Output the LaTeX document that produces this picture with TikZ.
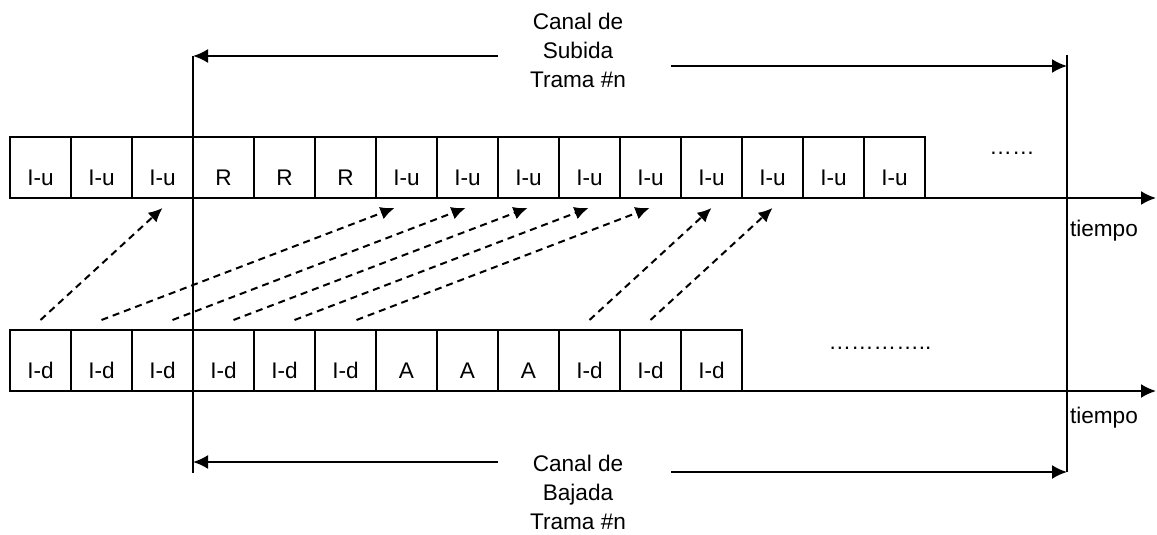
\documentclass[tikz,border=0pt]{standalone}
\usepackage{fontspec}
\setmainfont{Liberation Sans}
\usetikzlibrary{arrows.meta}
\usetikzlibrary{calc}

\begin{document}
\begin{tikzpicture}[x=0.5pt,y=-0.5pt,line width=1pt,font=\fontsize{11.3}{14.5}\selectfont,
  cell/.style={draw,anchor=north west,outer sep=0pt,inner sep=0pt,minimum width=30.5pt,minimum height=30.5pt,text height=18pt,text depth=0pt},
  msg/.style={dash pattern=on 3.5pt off 2.5pt,-{Latex[length=7pt,width=6.5pt]}},
  tip/.style={-{Latex[length=7.5pt,width=7pt]}}]
\useasboundingbox (0,0) rectangle (1157,535);
\foreach \t [count=\i] in {I-u,I-u,I-u,R,R,R,I-u,I-u,I-u,I-u,I-u,I-u,I-u,I-u,I-u}
  \node[cell] (u\i) at ({10+61*(\i-1)},137) {\t};
\foreach \t [count=\i] in {I-d,I-d,I-d,I-d,I-d,I-d,A,A,A,I-d,I-d,I-d}
  \node[cell] (d\i) at ({10+61*(\i-1)},330) {\t};
\coordinate (tu) at (1156,198);
\coordinate (td) at (1156,391);
\draw[tip] (u15.south east) -- (tu);
\draw[tip] (d12.south east) -- (td);
\node[anchor=base west,inner sep=0pt] (tlu) at (1069,236) {tiempo};
\node[anchor=base west,inner sep=0pt] (tld) at (1069,423) {tiempo};
\node[anchor=base] (dotu) at (1012,155) {……};
\node[anchor=base] (dotd) at (880,349) {…………..};
% frame #n
\coordinate (lt) at (193,56);
\coordinate (lb) at (193,473);
\coordinate (rt) at (1067,55);
\coordinate (rb) at (1067,472);
\draw (lt) -- (lb);
\draw (rt) -- (rb);
\node[align=center] (sub) at (578,50) {Canal de\\Subida\\Trama \#n};
\node[align=center] (baj) at (578,492) {Canal de\\Bajada\\Trama \#n};
\coordinate (sl) at (498,56);
\coordinate (sr) at (671,66);
\coordinate (bl) at (498,462);
\coordinate (br) at (671,472);
\draw[tip] (sl) -- (lt);
\draw[tip] (sr) -- (rt|-sr);
\draw[tip] (bl) -- (lb|-bl);
\draw[tip] (br) -- (rb);
% down -> up
\foreach \a/\da/\b/\db in {1/0/3/0,2/0/7/-12,3/10/8/-2,4/10/9/-1,5/10/10/-1,6/11/11/-1,10/0/12/0,11/0/13/0}
  \draw[msg] ($(d\a.north)+(\da,-10)$) -- ($(u\b.south)+(\db,10)$);
\end{tikzpicture}
\end{document}
